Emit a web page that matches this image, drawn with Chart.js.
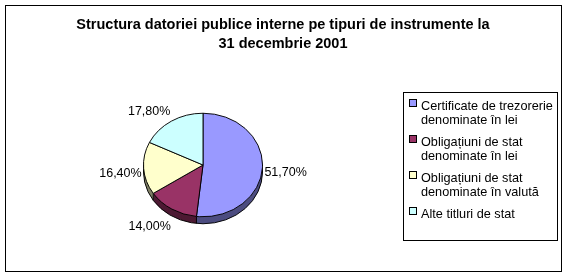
<!DOCTYPE html>
<html>
<head>
<meta charset="utf-8">
<script src="https://cdn.jsdelivr.net/npm/chart.js@4"></script>
<style>
body { margin: 0; background: #fff; }
#wrap { width: 568px; height: 277px; position: relative; }
</style>
</head>
<body>
<div id="wrap"><canvas id="c"></canvas></div>
<script>
const titleLines = ["Structura datoriei publice interne pe tipuri de instrumente la", "31 decembrie 2001"];
const categories = [
    ["Certificate de trezorerie", "denominate în lei"],
    ["Obligațiuni de stat", "denominate în lei"],
    ["Obligațiuni de stat", "denominate în valută"],
    ["Alte titluri de stat"]
];
const shares = [51.7, 14.0, 16.4, 17.8];
const sliceColors = ["#9999FF", "#993366", "#FFFFCC", "#CCFFFF"];
const sideColors = ["#4D4D80", "#4D1A33", "#808066", "#668080"];

const FONT = "Liberation Sans, Arial, sans-serif";
const TILT = 0.87;   // vertical squash of the pie
const DEPTH = 7;     // thickness of the pie in px

function fmt(v) {
    return v.toFixed(2).replace(".", ",") + "%";
}

const pie3d = {
    id: "pie3d",
    beforeDraw(chart) {
        const ctx = chart.ctx;
        ctx.save();
        ctx.fillStyle = "#fff";
        ctx.fillRect(0, 0, chart.width, chart.height);
        ctx.strokeStyle = "#000";
        ctx.lineWidth = 1;
        ctx.strokeRect(5.5, 5.5, 556, 266);
        // title
        ctx.fillStyle = "#000";
        ctx.font = "bold 14.5px " + FONT;
        ctx.textAlign = "center";
        ctx.textBaseline = "middle";
        titleLines.forEach((t, i) => ctx.fillText(t, 283, 25 + i * 19));
        ctx.restore();
    },
    beforeDatasetsDraw(chart) {
        const ctx = chart.ctx;
        const arcs = chart.getDatasetMeta(0).data;
        const cx = arcs[0].x, cy = arcs[0].y, R = arcs[0].outerRadius;
        ctx.save();
        ctx.translate(cx, cy);
        ctx.scale(1, TILT);
        ctx.translate(-cx, -cy);
        // side walls
        for (let k = DEPTH; k >= 1; k--) {
            arcs.forEach((a, i) => {
                ctx.beginPath();
                ctx.moveTo(cx, cy + k / TILT);
                ctx.arc(cx, cy + k / TILT, R, a.startAngle, a.endAngle);
                ctx.closePath();
                ctx.fillStyle = sideColors[i];
                ctx.fill();
            });
        }
        ctx.strokeStyle = "#000";
        ctx.lineWidth = 1;
        ctx.beginPath();
        ctx.arc(cx, cy + DEPTH / TILT, R, 0, Math.PI);
        ctx.stroke();
        const edges = [0, Math.PI];
        arcs.forEach(a => {
            if (Math.sin(a.startAngle) > 0) edges.push(a.startAngle);
        });
        ctx.beginPath();
        edges.forEach(t => {
            const x = cx + R * Math.cos(t), y = cy + R * Math.sin(t);
            ctx.moveTo(x, y);
            ctx.lineTo(x, y + DEPTH / TILT);
        });
        ctx.stroke();
    },
    afterDatasetsDraw(chart) {
        const ctx = chart.ctx;
        ctx.restore();
        const arcs = chart.getDatasetMeta(0).data;
        ctx.save();
        ctx.fillStyle = "#000";
        ctx.font = "12.5px " + FONT;
        ctx.textBaseline = "middle";
        arcs.forEach((a, i) => {
            const mid = (a.startAngle + a.endAngle) / 2;
            const R = a.outerRadius;
            const c = Math.cos(mid), s = Math.sin(mid);
            const x = a.x + (R + 2) * c;
            const y = a.y + (R * TILT + 16) * s + 4;
            ctx.textAlign = c >= 0 ? "left" : "right";
            ctx.fillText(fmt(shares[i]), x, y);
        });
        ctx.restore();
    },
    afterDraw(chart) {
        const ctx = chart.ctx;
        ctx.save();
        ctx.strokeStyle = "#000";
        ctx.lineWidth = 1;
        ctx.strokeRect(403.5, 92.5, 154, 148);
        ctx.font = "12.7px " + FONT;
        ctx.textBaseline = "middle";
        ctx.textAlign = "left";
        chart.data.labels.forEach((lab, i) => {
            const y0 = 106 + i * 36;
            ctx.fillStyle = sliceColors[i];
            ctx.fillRect(409, y0 - 7, 8, 8);
            ctx.strokeRect(409.5, y0 - 6.5, 7, 7);
            ctx.fillStyle = "#000";
            lab.forEach((line, j) => ctx.fillText(line, 421, y0 + j * 14));
        });
        ctx.restore();
    }
};

new Chart(document.getElementById("c"), {
    type: "pie",
    data: {
        labels: categories,
        datasets: [{
            data: shares,
            backgroundColor: sliceColors,
            borderColor: "#000",
            borderWidth: 1,
            clip: false
        }]
    },
    options: {
        responsive: true,
        maintainAspectRatio: false,
        animation: false,
        events: [],
        layout: { padding: { left: 143, right: 305, top: 105, bottom: 52 } },
        plugins: {
            legend: { display: false },
            title: { display: false },
            tooltip: { enabled: false }
        }
    },
    plugins: [pie3d]
});
</script>
</body>
</html>
